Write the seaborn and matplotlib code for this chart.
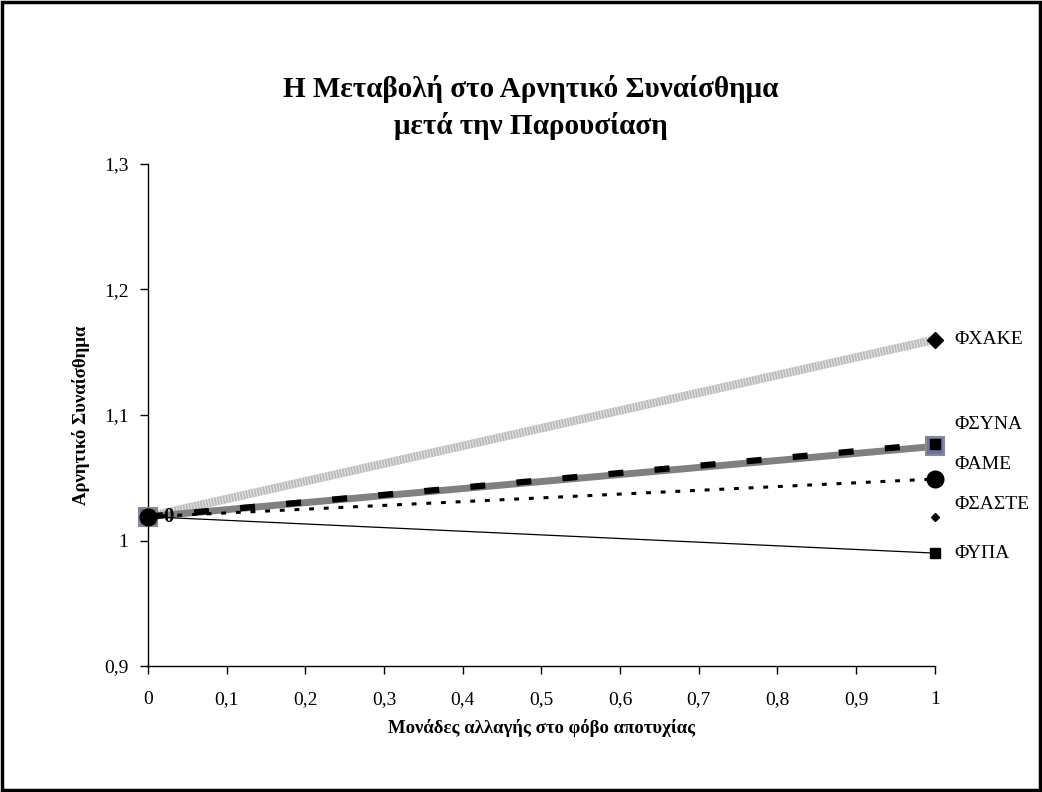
import numpy as np
import pandas as pd
import matplotlib
matplotlib.use("Agg")
import matplotlib.pyplot as plt
import seaborn as sns
from matplotlib.patches import Rectangle

# data
x_vals = [0, 1]
y_xake = [1.019, 1.160]
y_syna = [1.019, 1.077]
y_ame = [1.019, 1.075]
y_saste = [1.019, 1.049]
y_diam = [1.019, 1.019]
y_ypa = [1.019, 0.990]
x_ticks = [0, 0.1, 0.2, 0.3, 0.4, 0.5, 0.6, 0.7, 0.8, 0.9, 1]
y_ticks = [0.9, 1.0, 1.1, 1.2, 1.3]

sns.set_style("white")
plt.rcParams["font.family"] = ["Liberation Serif", "DejaVu Serif"]
for k in ["text.color", "axes.labelcolor", "xtick.color", "ytick.color"]:
    plt.rcParams[k] = "black"

fig = plt.figure(figsize=(10.42, 7.92), dpi=100)
ax = fig.add_axes([0.142, 0.159, 0.755, 0.634])

def comma(v):
    s = f"{v:.1f}".rstrip("0").rstrip(".")
    return s.replace(".", ",")

# ΦΧΑΚΕ - light gray striped thick line
sns.lineplot(x=x_vals, y=y_xake, ax=ax, color="#b8b8b8", linewidth=6, zorder=2)
sns.lineplot(x=x_vals, y=y_xake, ax=ax, color="#e2e2e2", linewidth=6,
             dashes=(0.15, 0.2), zorder=2)
ax.plot(x_vals[1:], y_xake[1:], marker="D", color="black", markersize=8,
        linestyle="none", zorder=5, clip_on=False)

# ΦΑΜΕ - gray thick line
sns.lineplot(x=x_vals, y=y_ame, ax=ax, color="#808080", linewidth=5, zorder=3)
ax.plot(x_vals, y_ame, marker="s", markersize=13, markerfacecolor="#7070a8",
        markeredgecolor="#8a8a8a", markeredgewidth=1.5, linestyle="none", zorder=4, clip_on=False)

# ΦΣΥΝΑ - black dashed
sns.lineplot(x=x_vals, y=y_syna, ax=ax, color="black", linewidth=4.5, dashes=(2.4, 5.0), zorder=4)
ax.plot(x_vals[1:], y_syna[1:], marker="s", color="black", markersize=7,
        linestyle="none", zorder=5, clip_on=False)

# ΦΣΑΣΤΕ - dotted
sns.lineplot(x=x_vals, y=y_saste, ax=ax, color="black", linewidth=2.2, dashes=(1.6, 3.2), zorder=3)
ax.plot(x_vals, y_saste, marker="o", color="black", markersize=12,
        linestyle="none", zorder=6, clip_on=False)

# small diamond series (no line)
ax.plot(x_vals[1:], y_diam[1:], marker="D", color="black", markersize=4,
        linestyle="none", zorder=5, clip_on=False)

# ΦΥΠΑ - thin solid
sns.lineplot(x=x_vals, y=y_ypa, ax=ax, color="black", linewidth=0.9, zorder=3)
ax.plot(x_vals[1:], y_ypa[1:], marker="s", color="black", markersize=7,
        linestyle="none", zorder=5, clip_on=False)

# end labels
labels = [("ΦΧΑΚΕ", y_xake[1], 0), ("ΦΣΥΝΑ", y_syna[1], 14), ("ΦΑΜΕ", y_ame[1], -13),
          ("ΦΣΑΣΤΕ", y_saste[1], -18), ("ΦΥΠΑ", y_ypa[1], 0)]
for txt, yv, dy in labels:
    ax.annotate(txt, xy=(1, yv), xytext=(14, dy), textcoords="offset points",
                fontsize=14, va="center", ha="left", annotation_clip=False)
ax.annotate("0", xy=(0, y_ame[0]), xytext=(11, 0), textcoords="offset points",
            fontsize=15, fontweight="bold", va="center", ha="left")

ax.set_xlim(0, 1)
ax.set_ylim(0.9, 1.3)
ax.set_xticks(x_ticks)
ax.set_xticklabels([comma(v) for v in x_ticks])
ax.set_yticks(y_ticks)
ax.set_yticklabels([comma(v) for v in y_ticks])
ax.tick_params(axis="both", direction="out", length=6, width=1, color="black",
               labelsize=14, pad=8, bottom=True, left=True)
ax.tick_params(axis="x", pad=12)
for side in ["top", "right"]:
    ax.spines[side].set_visible(False)
for side in ["left", "bottom"]:
    ax.spines[side].set_color("black")
    ax.spines[side].set_linewidth(1)

ax.set_xlabel("Μονάδες αλλαγής στο φόβο αποτυχίας", fontsize=13.5, fontweight="bold", labelpad=8)
ax.set_ylabel("Αρνητικό Συναίσθημα", fontsize=13.5, fontweight="bold", labelpad=10)

fig.text(0.509, 0.864, "Η Μεταβολή στο Αρνητικό Συναίσθημα\nμετά την Παρουσίαση",
         ha="center", va="center", fontsize=21, fontweight="bold", linespacing=1.4)

fig.patches.append(Rectangle((0.002, 0.003), 0.996, 0.994, transform=fig.transFigure,
                             fill=False, edgecolor="black", linewidth=2.5))

fig.savefig("out.png", dpi=100)
